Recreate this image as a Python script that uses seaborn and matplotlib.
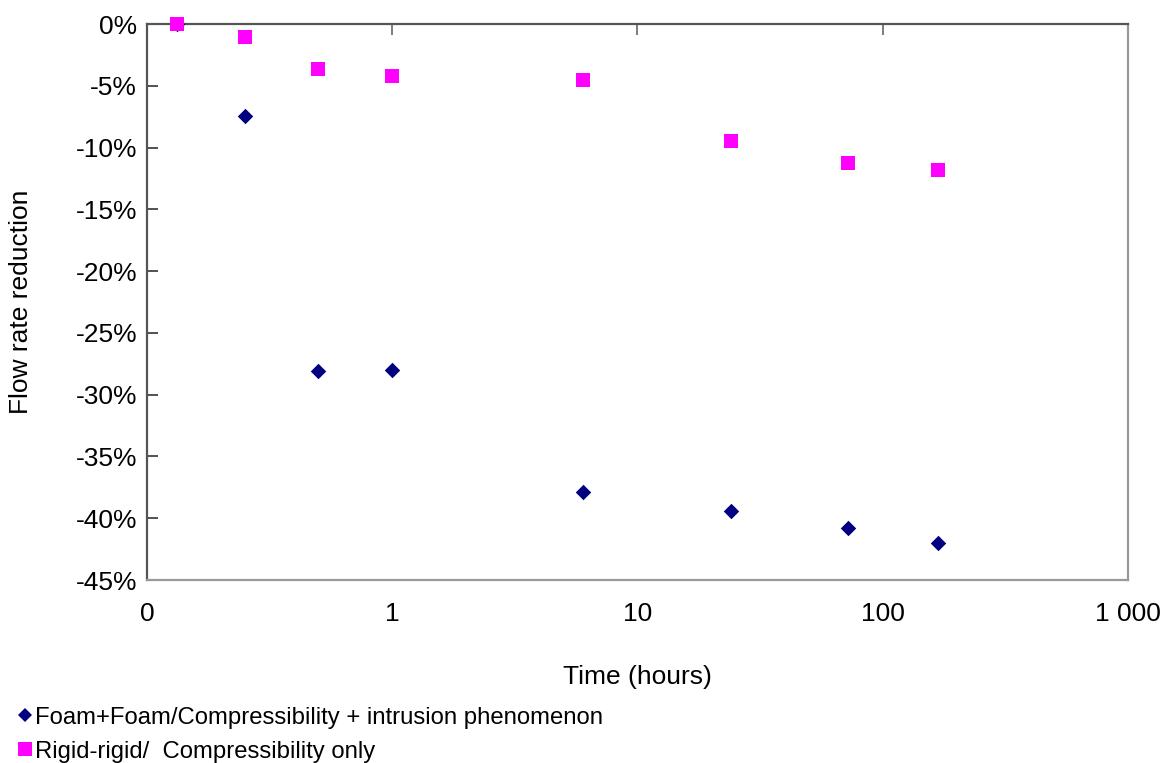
import matplotlib
matplotlib.use('Agg')
import matplotlib.pyplot as plt
import matplotlib.ticker as mticker
from matplotlib.lines import Line2D
import pandas as pd
import seaborn as sns

# time in hours
time_h = [0.133, 0.25, 0.5, 1, 6, 24, 72, 168]
foam_red = [0.0, -0.0744, -0.2807, -0.2800, -0.3786, -0.3940, -0.4080, -0.4200]
rigid_red = [0.0, -0.0105, -0.0360, -0.0420, -0.0450, -0.0947, -0.1122, -0.1180]

foam_label = 'Foam+Foam/Compressibility + intrusion phenomenon'
rigid_label = 'Rigid-rigid/  Compressibility only'

x_ticks = [0.1, 1, 10, 100, 1000]
x_ticklabels = ['0', '1', '10', '100', '1 000']

df = pd.concat([
    pd.DataFrame({'time': time_h, 'reduction': foam_red, 'series': foam_label}),
    pd.DataFrame({'time': time_h, 'reduction': rigid_red, 'series': rigid_label}),
])

sns.set_theme(style='white')
plt.rcParams['font.family'] = ['Liberation Sans', 'DejaVu Sans']
plt.rcParams['axes.unicode_minus'] = False
plt.rcParams['text.color'] = 'black'
plt.rcParams['axes.labelcolor'] = 'black'
plt.rcParams['xtick.labelcolor'] = 'black'
plt.rcParams['ytick.labelcolor'] = 'black'

colors = {foam_label: '#000080', rigid_label: '#FF00FF'}

fig = plt.figure(figsize=(11.7, 7.63), dpi=100)
ax = fig.add_axes([0.1256, 0.2398, 0.8384, 0.7287])

sns.scatterplot(data=df[df['series'] == foam_label], x='time', y='reduction',
                color=colors[foam_label], marker='D', s=62, linewidth=0,
                ax=ax, zorder=3, legend=False, clip_on=False)
sns.scatterplot(data=df[df['series'] == rigid_label], x='time', y='reduction',
                color=colors[rigid_label], marker='s', s=100, linewidth=0,
                ax=ax, zorder=4, legend=False, clip_on=False)

ax.set_xscale('log')
ax.set_xlim(0.1, 1000)
ax.set_ylim(-0.45, 0.0)
ax.xaxis.set_major_locator(mticker.FixedLocator(x_ticks))
ax.xaxis.set_minor_locator(mticker.NullLocator())
ax.set_xticklabels(x_ticklabels)
ax.yaxis.set_major_locator(mticker.MultipleLocator(0.05))
ax.yaxis.set_major_formatter(mticker.PercentFormatter(xmax=1, decimals=0))

ax.tick_params(axis='x', bottom=False, top=True, labelbottom=True, labeltop=False,
               direction='in', length=8, width=1.2, color='#666666',
               labelsize=19, pad=16)
ax.tick_params(axis='y', left=True, direction='in', length=8, width=1.2,
               color='#333333', labelsize=19, pad=7)

for side, col in {'left': '#555555', 'top': '#555555',
                  'bottom': '#999999', 'right': '#999999'}.items():
    ax.spines[side].set_visible(True)
    ax.spines[side].set_color(col)
    ax.spines[side].set_linewidth(1.6)

ax.set_xlabel('Time (hours)', fontsize=19)
ax.set_ylabel('Flow rate reduction', fontsize=19, va='center')
ax.xaxis.set_label_coords(0.5, -0.152)
ax.yaxis.set_label_coords(-0.128, 0.5)

handles = [
    Line2D([], [], linestyle='none', marker='D', markersize=7.5,
           markerfacecolor=colors[foam_label], markeredgewidth=0),
    Line2D([], [], linestyle='none', marker='s', markersize=10,
           markerfacecolor=colors[rigid_label], markeredgewidth=0),
]
fig.legend(handles, [foam_label, rigid_label], loc='lower left',
           bbox_to_anchor=(0.005, -0.015), frameon=False, fontsize=17.2,
           handlelength=0.6, handletextpad=0.1, labelspacing=0.5,
           borderaxespad=0.1)

fig.savefig('out.png', dpi=100)
